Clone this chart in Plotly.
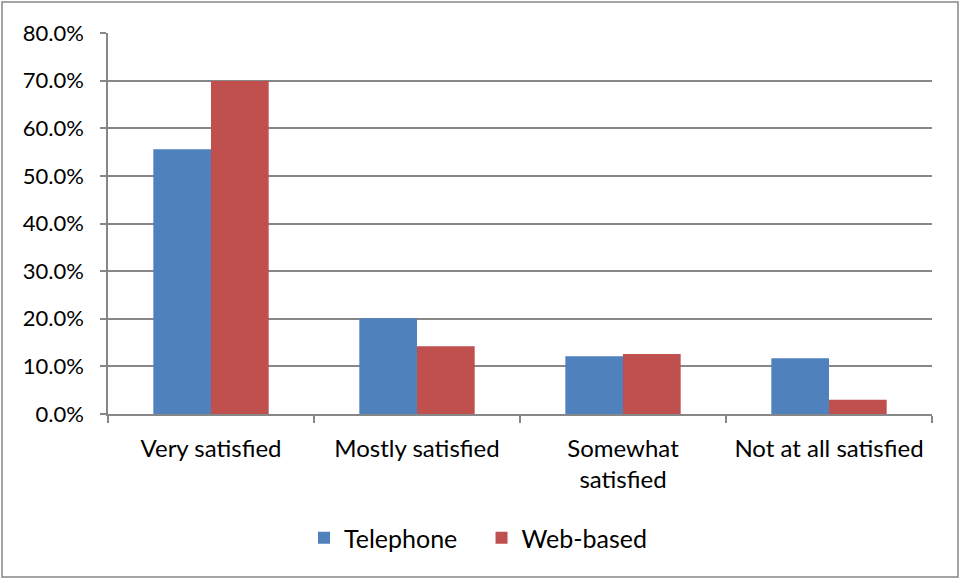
import plotly.graph_objects as go

categories = ["Very satisfied", "Mostly satisfied", "Somewhat<br>satisfied", "Not at all satisfied"]
telephone = [0.556, 0.201, 0.121, 0.117]
web_based = [0.699, 0.142, 0.126, 0.030]
y_ticks = [0, 0.1, 0.2, 0.3, 0.4, 0.5, 0.6, 0.7, 0.8]

FONT = "Lato"
GRID = "#878787"

fig = go.Figure()
fig.add_trace(go.Bar(name="Telephone   ", x=categories, y=telephone,
                     marker=dict(color="#4F81BD", line=dict(width=0))))
fig.add_trace(go.Bar(name="Web-based", x=categories, y=web_based,
                     marker=dict(color="#C0504D", line=dict(width=0))))

L, R, T, B = 108, 29, 33, 165
W, H = 961, 579
pw, ph = W - L - R, H - T - B

fig.update_layout(
    width=W, height=H,
    margin=dict(l=L, r=R, t=T, b=B, pad=0),
    paper_bgcolor="white", plot_bgcolor="white",
    barmode="group", bargap=0.44, bargroupgap=0,
    font=dict(family=FONT, size=22, color="black"),
    showlegend=True,
    legend=dict(orientation="h", x=(478 - L) / pw, xanchor="center",
                y=(414 - 538) / ph, yanchor="middle",
                font=dict(family=FONT, size=25), itemwidth=30,
                traceorder="normal"),
    xaxis=dict(showline=True, linecolor=GRID, linewidth=1.5,
               ticks="outside", tickson="boundaries", ticklen=7, tickcolor=GRID,
               tickwidth=1.5, showgrid=False, ticklabelstandoff=12,
               tickfont=dict(size=24, family=FONT)),
    yaxis=dict(range=[0, 0.8], tickvals=y_ticks, tickformat=".1%",
               showline=True, linecolor=GRID, linewidth=1.5,
               ticks="outside", ticklen=6, tickcolor=GRID, tickwidth=1.5,
               showgrid=True, gridcolor=GRID, gridwidth=1.5, zeroline=False,
               ticklabelstandoff=12,
               tickfont=dict(size=22, family=FONT)),
    shapes=[dict(type="rect", xref="paper", yref="paper",
                 x0=(2 - L) / pw, x1=(958 - L) / pw,
                 y0=(414 - 577) / ph, y1=(414 - 2) / ph,
                 line=dict(color="#868686", width=1.5), fillcolor="rgba(0,0,0,0)",
                 layer="below")],
)

fig.write_html("out.html")
